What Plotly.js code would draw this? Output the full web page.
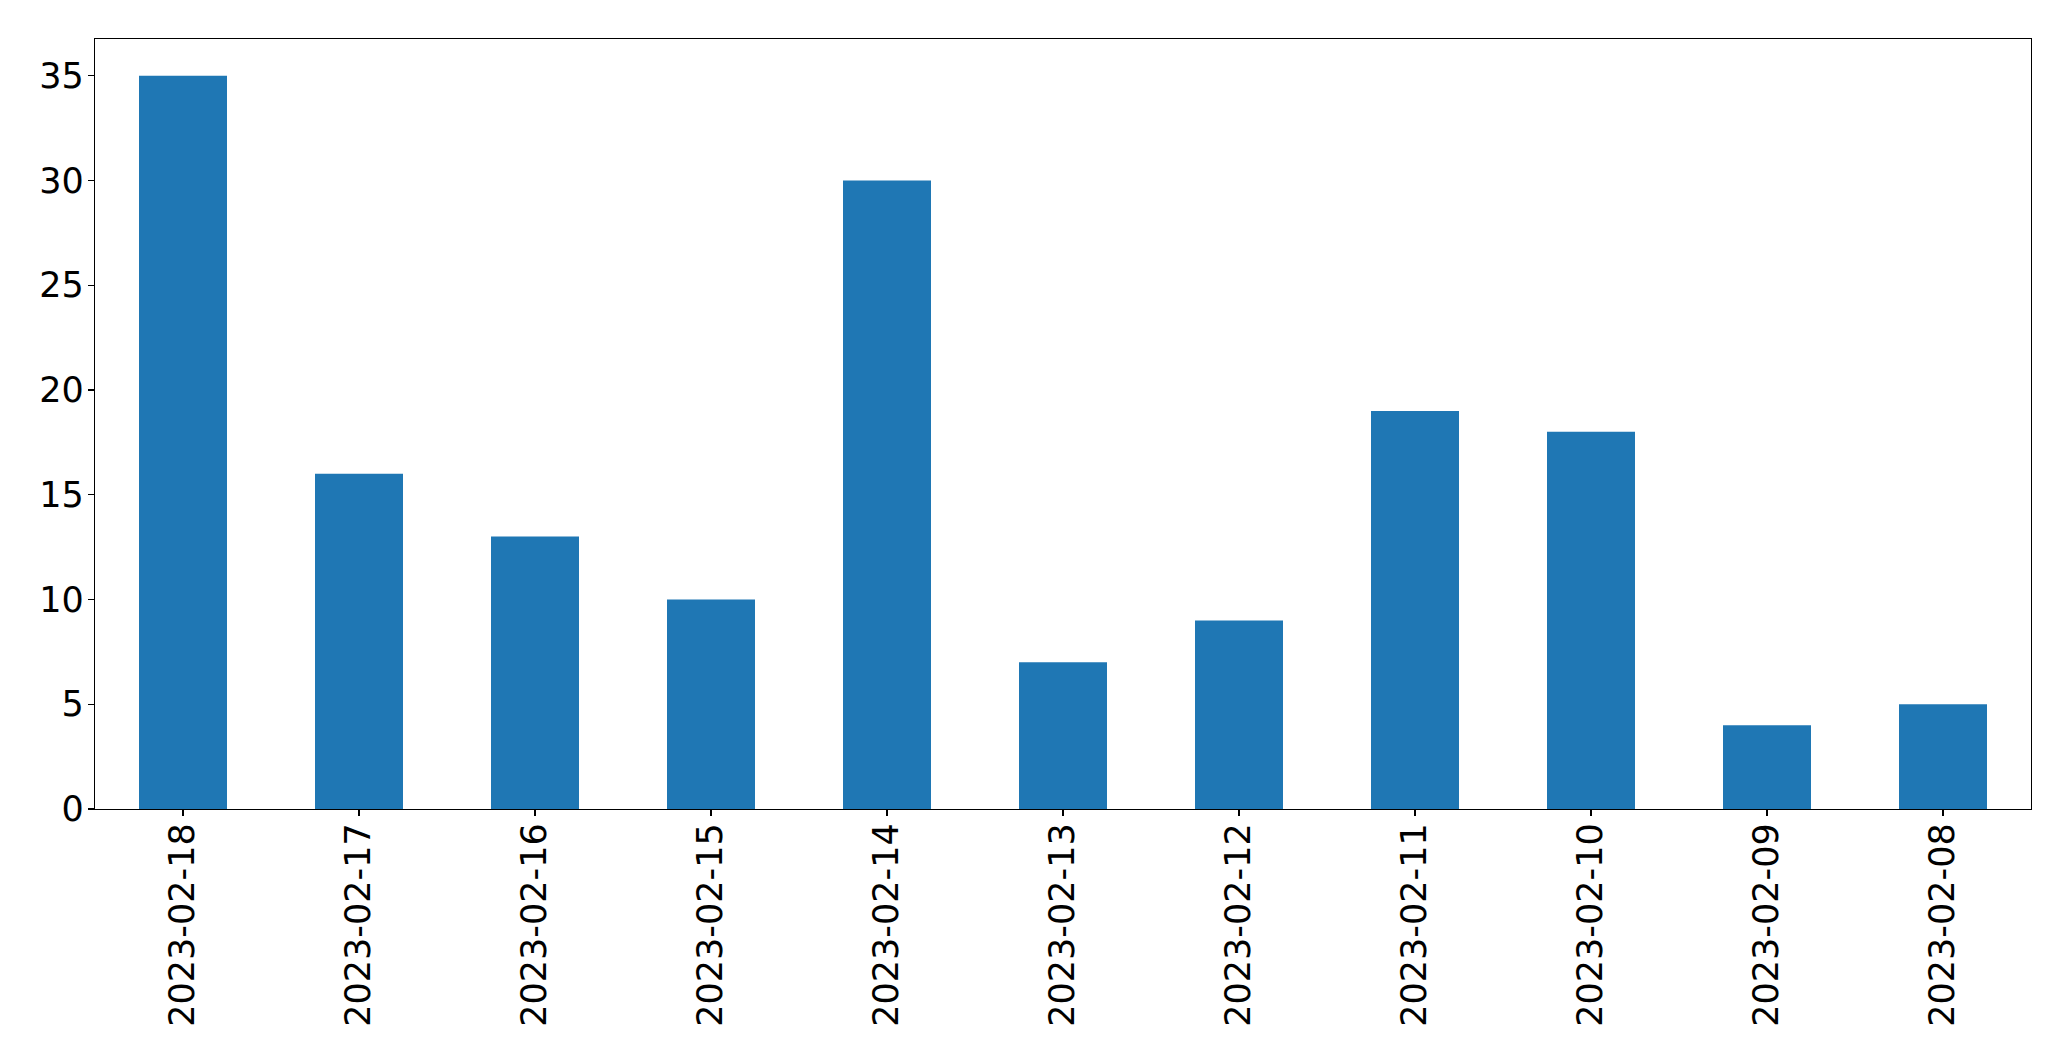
<!DOCTYPE html>
<html>
<head>
<meta charset="utf-8">
<script src="https://cdn.plot.ly/plotly-3.0.1.min.js"></script>
<style>html,body{margin:0;padding:0;background:#fff;}#chart{width:2071px;height:1061px;}</style>
</head>
<body>
<div id="chart"></div>
<script>
const dates = ["2023-02-18","2023-02-17","2023-02-16","2023-02-15","2023-02-14","2023-02-13","2023-02-12","2023-02-11","2023-02-10","2023-02-09","2023-02-08"];
const counts = [35, 16, 13, 10, 30, 7, 9, 19, 18, 4, 5];
const yTicks = [0, 5, 10, 15, 20, 25, 30, 35];

const trace = {
  type: "bar",
  x: dates,
  y: counts,
  width: 0.5,
  marker: {color: "#1f77b4", line: {width: 0}},
  hoverinfo: "x+y"
};

const layout = {
  width: 2071,
  height: 1061,
  margin: {l: 95, r: 40, t: 39, b: 252, pad: 0},
  paper_bgcolor: "#ffffff",
  plot_bgcolor: "#ffffff",
  font: {family: "DejaVu Sans", size: 35, color: "#000000"},
  showlegend: false,
  xaxis: {
    type: "category",
    range: [-0.5, 10.5],
    tickangle: -90,
    ticks: "outside",
    ticklen: 6,
    tickwidth: 1.3,
    tickcolor: "#000",
    ticklabelstandoff: -7,
    showline: true,
    linecolor: "#000",
    linewidth: 1.3,
    mirror: true,
    showgrid: false,
    zeroline: false,
    automargin: false,
    tickfont: {family: "DejaVu Sans", size: 35, color: "#000"}
  },
  yaxis: {
    range: [0, 36.75],
    tickmode: "array",
    tickvals: yTicks,
    ticktext: yTicks.map(String),
    ticks: "outside",
    ticklen: 6,
    tickwidth: 1.3,
    tickcolor: "#000",
    ticklabelstandoff: -3,
    showline: true,
    linecolor: "#000",
    linewidth: 1.3,
    mirror: true,
    showgrid: false,
    zeroline: false,
    automargin: false,
    tickfont: {family: "DejaVu Sans", size: 35, color: "#000"}
  }
};

Plotly.newPlot("chart", [trace], layout, {displayModeBar: false, staticPlot: true});
</script>
</body>
</html>
